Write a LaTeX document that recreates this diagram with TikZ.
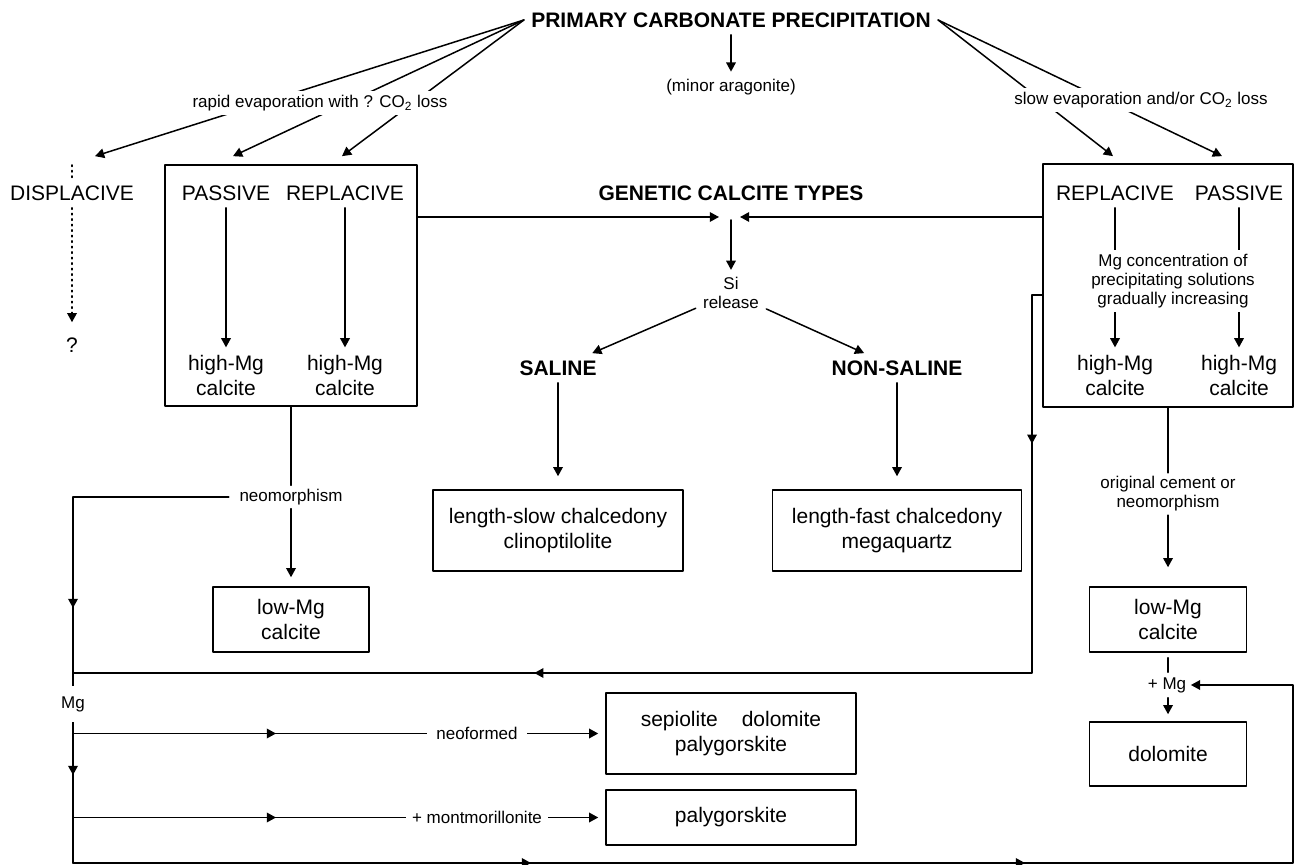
\documentclass[tikz,border=0pt]{standalone}
\usepackage{fontspec}
\setmainfont{Liberation Sans}
\usetikzlibrary{arrows.meta,decorations.markings}
\newcommand{\bigsize}{\fontsize{10.5}{12.5}\selectfont}
\newcommand{\smallsize}{\fontsize{8.5}{9.5}\selectfont}
\begin{document}
\begin{tikzpicture}[line cap=round,line join=round,x=0.5pt,y=-0.5pt,>={Triangle[length=4.6pt,width=4.8pt]},
    line width=0.75pt, font=\bigsize,
    box/.style={draw,align=center,inner sep=0pt},
    txt/.style={align=center},
    head/.style={font=\bigsize\bfseries},
    small/.style={font=\smallsize,align=center},
    midtip/.style={postaction={decorate,decoration={markings,mark=at position #1 with {\arrow{>}}}}}]
                \useasboundingbox (0,0) rectangle (1300,865);
                % top
                \node[head] (primary) at (731,20) {PRIMARY CARBONATE PRECIPITATION};
                \node[small] (aragonite) at (731,87) {(minor aragonite)};
                \draw[->] (primary) -- (aragonite);
                % left branch
                \node (displ) at (72,193) {DISPLACIVE};
                \node (q) at (72,345) {?};
                \coordinate (dtop) at (72,165);
                \draw[dotted] (dtop) -- (displ);
                \draw[dotted,->,shorten >=4pt] (displ) -- (q);
                \node[box,minimum width=126pt,minimum height=120.5pt] (lbox) at (291,285.5) {};
                \node (lpas) at (226,193) {PASSIVE};
                \node (lrep) at (345,193) {REPLACIVE};
                \node[txt] (lhi1) at (226,375) {high-Mg\\calcite};
                \node[txt] (lhi2) at (345,375) {high-Mg\\calcite};
                \draw[->] (lpas) -- (lhi1);
                \draw[->] (lrep) -- (lhi2);
                \draw[->] (primary.west) -- ([xshift=11.5pt,yshift=11pt]displ.north);
                \draw[->] (primary.west) -- ([xshift=3.5pt,yshift=11pt]lpas.north);
                \draw[->] (primary.west) -- ([xshift=-1.5pt,yshift=11pt]lrep.north);
                \node[small,fill=white,inner sep=2pt] (rapid) at (320,103) {rapid evaporation with ? CO\textsubscript{2} loss};
                % right branch
                \node[box,minimum width=125pt,minimum height=121.5pt] (rbox) at (1168,285.5) {};
                \node (rrep) at (1115,193) {REPLACIVE};
                \node (rpas) at (1239,193) {PASSIVE};
                \node[txt] (rhi1) at (1115,375) {high-Mg\\calcite};
                \node[txt] (rhi2) at (1239,375) {high-Mg\\calcite};
                \draw[->] (rrep) -- (rhi1);
                \draw[->] (rpas) -- (rhi2);
                \node[small,fill=white,inner sep=2pt] (mgconc) at (1173,281) {Mg concentration of\\precipitating solutions\\gradually increasing};
                \draw[->] (primary.east) -- ([xshift=-1pt,yshift=11pt]rrep.north);
                \draw[->] (primary.east) -- ([xshift=-8.5pt,yshift=11pt]rpas.north);
                \node[small,fill=white,inner sep=2pt] (slow) at (1141,100) {slow evaporation and/or CO\textsubscript{2} loss};
                % genetic types
                \node[head] (genetic) at (731,193) {GENETIC CALCITE TYPES};
                \coordinate (gl) at (719,217);
                \coordinate (gr) at (740,217);
                \coordinate (gc) at (731,220);
                \draw[->] (lbox.east |- gl) -- (gl);
                \draw[->] (rbox.west |- gr) -- (gr);
                \node[small] (si) at (731,293) {Si\\release};
                \draw[->] (gc) -- (si);
                \node[head] (saline) at (558,368) {SALINE};
                \node[head] (nonsaline) at (897,368) {NON-SALINE};
                \draw[->] (si) -- (saline);
                \draw[->] (si) -- (nonsaline);
                \node[box,minimum width=125pt,minimum height=40.5pt] (slowbox) at (558,530.5) {length-slow chalcedony\\clinoptilolite};
                \node[box,minimum width=124.5pt,minimum height=40.5pt] (fastbox) at (897,530.5) {length-fast chalcedony\\megaquartz};
                \draw[->,shorten >=6.5pt] (saline) -- (slowbox);
                \draw[->,shorten >=6.5pt] (nonsaline) -- (fastbox);
                % neomorphism and Mg
                \node[small,inner xsep=5pt,inner ysep=1.5pt] (neo) at (291,497) {neomorphism};
                \node[box,minimum width=78pt,minimum height=32.5pt] (lowl) at (291,619.5) {low-Mg\\calcite};
                \draw (lbox) -- (neo);
                \draw[->,shorten >=4.5pt] (neo) -- (lowl);
                \coordinate (nl) at (73,497);
                \coordinate (bl) at (73,863);
                \draw (neo) -- (nl);
                \draw[midtip=55.5pt,midtip=139pt] (nl) -- (bl);
                \coordinate (rtop) at (1032,295);
                \coordinate (rjoin) at (1032,673);
                \coordinate (ml) at (73,673);
                \draw[midtip=79.5pt,midtip=443pt] (rbox.west |- rtop) -- (rtop) -- (rjoin) -- (ml);
                \node[small,fill=white,minimum height=18pt] (mg) at (73,704) {Mg};
                \node[box,minimum width=125pt,minimum height=40.5pt] (sep) at (731,733.5) {sepiolite\hspace{12pt}dolomite\\palygorskite};
                \node[box,minimum width=125pt,minimum height=27.5pt] (pal) at (731,817.5) {palygorskite};
                \coordinate (nf) at (73,733.5);
                \coordinate (mm) at (73,817.5);
                \draw[->,shorten >=3.5pt,midtip=101.5pt] (nf) -- (sep);
                \draw[->,shorten >=3.5pt,midtip=101.5pt] (mm) -- (pal);
                \node[small,fill=white,inner xsep=4.5pt] (neof) at (477,733.5) {neoformed};
                \node[small,fill=white,inner xsep=3pt] (montm) at (477,817.5) {+ montmorillonite};
                % right column
                \node[small,inner sep=1.5pt] (orig) at (1168,494) {original cement or\\neomorphism};
                \node[box,minimum width=78.5pt,minimum height=32.5pt] (lowr) at (1168,619.5) {low-Mg\\calcite};
                \node[small,inner xsep=2pt,inner ysep=0pt,minimum height=12pt] (plusmg) at (1167,685) {+ Mg};
                \node[box,minimum width=78.5pt,minimum height=32pt] (dolo) at (1168,754) {dolomite};
                \draw (rbox) -- (orig);
                \draw[->,shorten >=9.5pt] (orig) -- (lowr);
                \draw[shorten <=2.5pt] (lowr) -- (lowr |- plusmg.north);
                \draw[->,shorten >=3.5pt] (lowr |- plusmg.south) -- (dolo);
                \coordinate (br) at (1293,863);
                \draw[->,midtip=229pt,midtip=476pt] (bl) -- (br) |- (plusmg);
\end{tikzpicture}
\end{document}
